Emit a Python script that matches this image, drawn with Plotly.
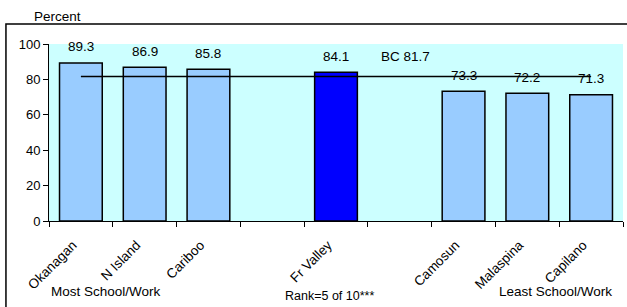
import plotly.graph_objects as go

categories = ["Okanagan", "N Island", "Cariboo", " ", "Fr Valley", "  ", "Camosun", "Malaspina", "Capilano"]
values = [89.3, 86.9, 85.8, None, 84.1, None, 73.3, 72.2, 71.3]
bc_value = 81.7
highlight = "Fr Valley"
y_ticks = [0, 20, 40, 60, 80, 100]

colors = ["#0000FF" if c == highlight else "#99CCFF" for c in categories]

FAM = "Liberation Sans, Arial, sans-serif"
font = dict(family=FAM, size=13.5, color="black")

fig = go.Figure()
fig.add_trace(go.Bar(
    x=categories, y=values, marker=dict(color=colors, line=dict(color="black", width=1.5)),
    width=0.67, showlegend=False, hoverinfo="skip"))
fig.add_trace(go.Scatter(
    x=[categories[0], categories[-1]], y=[bc_value, bc_value], mode="lines",
    line=dict(color="black", width=1.5), showlegend=False, hoverinfo="skip"))

annotations = []
for c, v in zip(categories, values):
    if v is None:
        continue
    annotations.append(dict(x=c, y=v, text=f"{v:.1f}", showarrow=False, yanchor="middle",
                            yshift=16, font=font))
annotations.append(dict(x=categories[5], y=bc_value, text=f"BC {bc_value}", showarrow=False,
                        yanchor="middle", yshift=20, xshift=6, font=font))
annotations += [
    dict(xref="paper", yref="paper", x=-0.03, y=1.158, text="Percent", showarrow=False,
         xanchor="left", yanchor="middle", font=font),
    dict(xref="paper", yref="paper", x=0.0993, y=-0.401, text="Most School/Work", showarrow=False,
         xanchor="center", yanchor="middle", font=font),
    dict(xref="paper", yref="paper", x=0.488, y=-0.424, text="Rank=5 of 10***", showarrow=False,
         xanchor="center", yanchor="middle", font=dict(family=FAM, size=12.5, color="black")),
    dict(xref="paper", yref="paper", x=0.883, y=-0.401, text="Least School/Work", showarrow=False,
         xanchor="center", yanchor="middle", font=font),
]

fig.update_layout(
    width=627, height=307,
    margin=dict(l=49, r=4, t=44, b=86, autoexpand=False),
    paper_bgcolor="white", plot_bgcolor="#CCFFFF",
    font=font, bargap=0.33,
    annotations=annotations,
    shapes=[dict(type="rect", xref="paper", yref="paper", x0=-0.075, x1=1.3, y0=-0.6, y1=1.113,
                 line=dict(color="black", width=1.5), fillcolor="rgba(0,0,0,0)", layer="below")],
)
fig.update_xaxes(type="category", categoryorder="array", categoryarray=categories,
                 tickangle=-45, ticks="outside", tickson="boundaries", ticklen=5,
                 tickcolor="black", showline=True, linecolor="black", linewidth=1,
                 showgrid=False, tickfont=dict(family=FAM, size=13.5, color="black"), automargin=False,
                 ticklabelstandoff=10, ticklabelshift=-8)
fig.update_yaxes(range=[0, 100], tickvals=y_ticks, ticks="outside", ticklen=5, tickcolor="black",
                 showline=True, linecolor="black", linewidth=1, showgrid=False, zeroline=False,
                 tickfont=dict(family=FAM, size=13, color="black"), automargin=False)

fig.write_html("out.html", config={"displayModeBar": False},
               post_script="document.body.style.margin='0';document.body.style.padding='0';document.body.style.overflow='hidden';")
